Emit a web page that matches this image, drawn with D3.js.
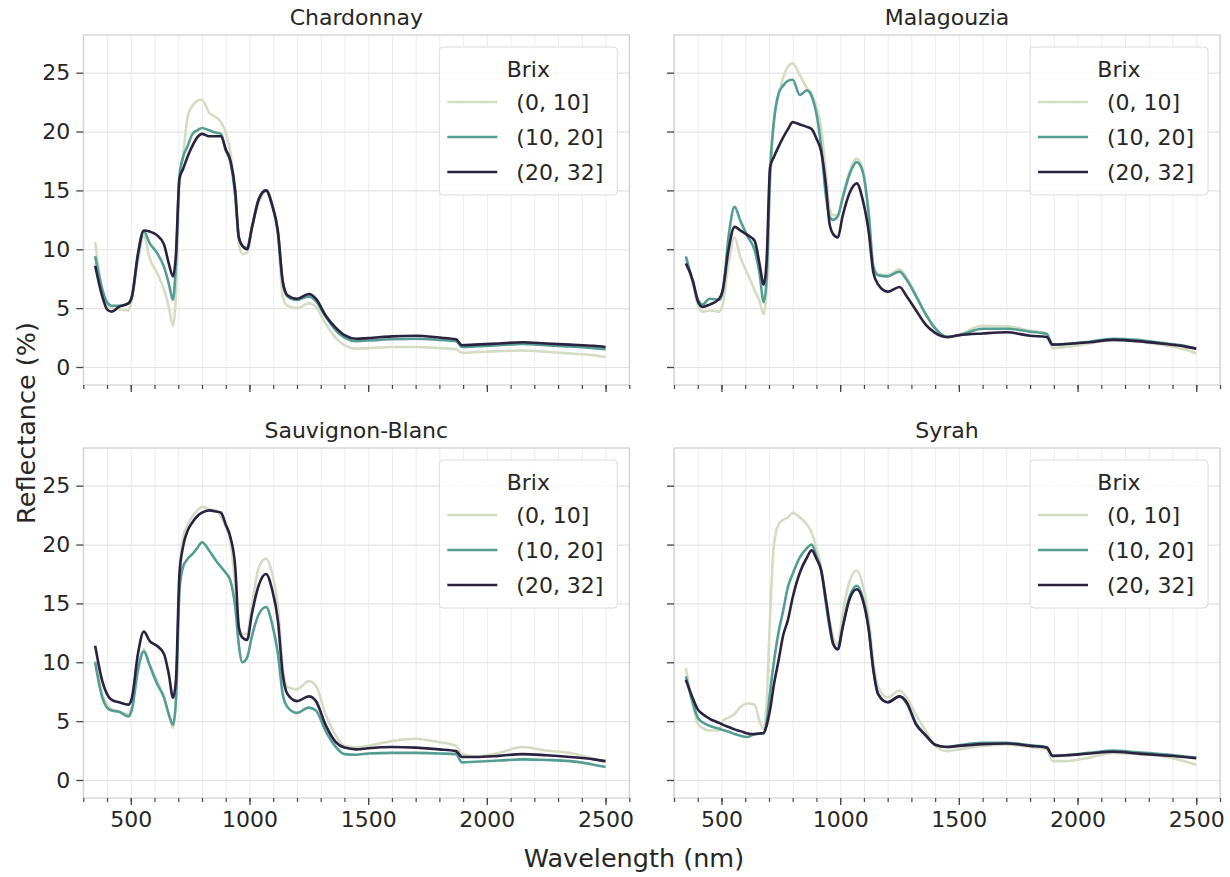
<!DOCTYPE html>
<html>
<head>
<meta charset="utf-8">
<script src="https://cdn.jsdelivr.net/npm/d3@7"></script>
<style>
  body { margin: 0; background: #fff; }
  text { font-family: "DejaVu Sans", sans-serif; fill: #262626; }
</style>
</head>
<body>
<script>
var W = 1230, H = 877;

// shared wavelength grid (nm)
var wavelengths = [350, 380, 400, 420, 450, 490, 505, 530, 555, 580, 610, 640, 660, 678, 690, 705, 720, 740, 760, 780,
  800, 830, 860, 880, 900, 920, 940, 955, 970, 990, 1010, 1040, 1070, 1095, 1120, 1140, 1160, 1200, 1250, 1280,
  1320, 1360, 1400, 1450, 1500, 1600, 1700, 1800, 1870, 1895, 1950, 2050, 2150, 2250, 2350, 2450, 2500];

var brixLabels = ["(0, 10]", "(10, 20]", "(20, 32]"];
var brixColors = ["#d4dcc4", "#559d92", "#2b2240"];
var varieties = ["Chardonnay", "Malagouzia", "Sauvignon-Blanc", "Syrah"];

var xTicks = [500, 1000, 1500, 2000, 2500];
var yTicks = [0, 5, 10, 15, 20, 25];

// Chardonnay
var chardonnayLow = [10.6, 6.5, 5.3, 5.0, 4.9, 4.8, 5.8, 9.0, 11.1, 9.2, 8.0, 6.6, 5.1, 3.5, 6.0, 15.5, 17.9, 21.3, 22.2, 22.6,
  22.7, 21.6, 21.2, 20.8, 19.9, 18.2, 14.5, 10.5, 9.6, 9.7, 11.9, 14.0, 14.9, 13.7, 11.1, 6.0, 5.2, 5.0, 5.4, 5.1,
  3.7, 2.55, 1.85, 1.55, 1.6, 1.7, 1.7, 1.6, 1.5, 1.2, 1.25, 1.35, 1.4, 1.3, 1.15, 1.0, 0.85];
var chardonnayMid = [9.4, 6.6, 5.5, 5.2, 5.2, 5.4, 6.0, 9.4, 11.5, 10.5, 9.7, 8.5, 7.1, 5.7, 8.8, 16.2, 17.8, 18.8, 19.8, 20.1,
  20.3, 20.1, 19.9, 19.8, 18.4, 17.4, 14.5, 11.1, 10.3, 10.1, 11.8, 14.3, 15.0, 13.8, 11.4, 7.2, 6.0, 5.7, 6.0, 5.6,
  4.3, 3.2, 2.5, 2.2, 2.25, 2.35, 2.4, 2.3, 2.2, 1.7, 1.75, 1.85, 1.95, 1.85, 1.75, 1.6, 1.5];
var chardonnayHigh = [8.6, 6.0, 4.9, 4.7, 5.1, 5.4, 6.0, 9.6, 11.6, 11.5, 11.2, 10.4, 8.8, 7.7, 9.5, 16.0, 16.8, 17.9, 18.8, 19.5,
  19.8, 19.6, 19.6, 19.6, 18.5, 17.5, 15.0, 11.0, 10.3, 10.0, 11.8, 14.3, 15.0, 13.8, 11.5, 7.3, 6.1, 5.8, 6.2, 5.8,
  4.4, 3.4, 2.7, 2.4, 2.45, 2.6, 2.65, 2.5, 2.35, 1.85, 1.9, 2.0, 2.1, 2.0, 1.9, 1.8, 1.7];

// Malagouzia
var malagouziaLow = [9.1, 7.0, 5.3, 4.7, 4.8, 4.7, 5.3, 8.8, 11.0, 9.3, 7.9, 6.5, 5.6, 4.5, 6.5, 15.5, 20.8, 23.0, 24.6, 25.5,
  25.8, 24.8, 23.7, 23.2, 22.1, 20.3, 16.5, 13.5, 12.9, 12.9, 14.5, 16.6, 17.7, 16.8, 13.2, 8.6, 7.9, 7.8, 8.3, 7.6,
  6.1, 4.5, 3.2, 2.5, 2.75, 3.5, 3.45, 3.1, 2.85, 1.6, 1.7, 2.0, 2.3, 2.2, 1.9, 1.5, 1.15];
var malagouziaMid = [9.4, 7.2, 5.8, 5.3, 5.8, 5.7, 6.4, 11.1, 13.6, 12.4, 11.1, 9.9, 8.0, 5.5, 7.5, 16.7, 20.7, 23.2, 23.9, 24.3,
  24.4, 23.1, 23.5, 23.0, 21.5, 18.7, 14.5, 12.8, 12.5, 12.8, 14.3, 16.4, 17.4, 16.6, 13.0, 8.5, 7.8, 7.7, 8.1, 7.4,
  6.0, 4.5, 3.3, 2.55, 2.7, 3.25, 3.25, 3.0, 2.8, 1.9, 1.95, 2.15, 2.4, 2.3, 2.05, 1.8, 1.55];
var malagouziaHigh = [8.8, 7.3, 5.6, 5.1, 5.3, 5.8, 6.5, 10.0, 11.9, 11.6, 11.2, 10.7, 8.8, 7.0, 9.0, 17.0, 17.8, 18.7, 19.5, 20.2,
  20.8, 20.6, 20.4, 20.2, 19.4, 18.3, 15.4, 12.2, 11.3, 11.0, 12.8, 14.8, 15.6, 14.2, 11.5, 8.0, 7.0, 6.4, 6.8, 6.0,
  4.8, 3.6, 2.9, 2.55, 2.7, 2.85, 2.95, 2.65, 2.55, 1.9, 1.95, 2.1, 2.3, 2.2, 2.0, 1.75, 1.55];

// Sauvignon-Blanc
var sauvignonLow = [10.1, 7.3, 6.4, 6.0, 5.8, 5.6, 6.3, 9.6, 11.1, 9.8, 8.5, 7.0, 5.6, 4.45, 6.5, 16.5, 20.6, 21.7, 22.4, 22.9,
  23.2, 23.0, 22.9, 22.4, 21.5, 20.3, 16.5, 13.0, 12.4, 12.4, 14.8, 18.1, 18.8, 17.6, 14.7, 9.6, 7.9, 7.7, 8.4, 8.0,
  5.6, 3.9, 2.9, 2.75, 2.9, 3.3, 3.5, 3.2, 2.9, 2.2, 2.0, 2.3, 2.8, 2.5, 2.3, 1.8, 1.5];
var sauvignonMid = [10.0, 7.0, 6.15, 5.9, 5.8, 5.4, 6.0, 9.3, 10.9, 9.7, 8.2, 7.0, 5.6, 4.7, 6.7, 16.1, 18.1, 18.8, 19.2, 19.7,
  20.2, 19.5, 18.6, 18.1, 17.6, 16.9, 14.7, 11.5, 10.0, 10.4, 12.2, 14.1, 14.7, 13.3, 10.7, 7.3, 6.2, 5.7, 6.15, 5.9,
  4.2, 2.9, 2.2, 2.15, 2.25, 2.3, 2.3, 2.25, 2.2, 1.5, 1.55, 1.65, 1.75, 1.7, 1.6, 1.3, 1.1];
var sauvignonHigh = [11.4, 8.4, 7.3, 6.8, 6.6, 6.4, 7.0, 10.7, 12.6, 11.8, 11.4, 10.7, 9.0, 7.0, 8.4, 17.5, 19.8, 21.2, 21.9, 22.4,
  22.7, 22.9, 22.8, 22.7, 21.7, 20.6, 18.1, 13.0, 12.1, 11.9, 14.1, 16.6, 17.5, 16.2, 13.5, 9.0, 7.3, 6.7, 7.1, 6.7,
  4.7, 3.3, 2.75, 2.6, 2.7, 2.8, 2.75, 2.6, 2.45, 1.95, 1.95, 2.05, 2.2, 2.1, 1.95, 1.75, 1.6];

// Syrah
var syrahLow = [9.5, 6.3, 4.8, 4.4, 4.2, 4.2, 5.0, 5.3, 5.6, 6.2, 6.5, 6.4, 5.0, 4.3, 6.5, 14.0, 19.8, 21.7, 22.1, 22.3,
  22.7, 22.3, 21.7, 21.0, 19.7, 18.0, 15.5, 13.6, 12.2, 11.5, 14.1, 16.9, 17.8, 16.6, 13.8, 10.0, 7.9, 7.0, 7.6, 7.0,
  5.5, 4.2, 2.9, 2.45, 2.6, 2.9, 3.0, 2.8, 2.6, 1.6, 1.6, 1.9, 2.3, 2.2, 2.05, 1.6, 1.3];
var syrahMid = [8.8, 6.5, 5.3, 4.9, 4.6, 4.35, 4.25, 4.1, 3.9, 3.75, 3.65, 3.9, 3.95, 4.0, 4.9, 7.5, 9.9, 12.5, 14.4, 16.4,
  17.5, 18.9, 19.7, 20.0, 19.0, 17.8, 15.0, 13.0, 11.6, 11.1, 13.0, 15.6, 16.5, 15.5, 12.9, 9.4, 7.3, 6.6, 7.1, 6.5,
  4.8, 3.8, 3.0, 2.8, 2.95, 3.15, 3.15, 2.95, 2.8, 2.05, 2.1, 2.3, 2.5, 2.35, 2.2, 2.0, 1.9];
var syrahHigh = [8.5, 6.9, 6.0, 5.6, 5.2, 4.85, 4.7, 4.5, 4.3, 4.15, 3.95, 3.9, 3.95, 4.0, 4.6, 6.0, 8.0, 10.1, 12.3, 13.6,
  15.5, 17.6, 18.9, 19.5, 18.8, 17.8, 15.3, 13.3, 11.6, 11.1, 12.9, 15.4, 16.2, 15.3, 12.8, 9.3, 7.3, 6.6, 7.1, 6.6,
  4.7, 3.8, 3.0, 2.8, 2.9, 3.05, 3.1, 2.9, 2.75, 2.05, 2.1, 2.25, 2.4, 2.25, 2.1, 1.95, 1.85];

var panelSeries = [
  [chardonnayLow, chardonnayMid, chardonnayHigh],
  [malagouziaLow, malagouziaMid, malagouziaHigh],
  [sauvignonLow, sauvignonMid, sauvignonHigh],
  [syrahLow, syrahMid, syrahHigh]
];

var pw = 546, ph = 350;
var lefts = [83.3, 674], tops = [35, 448];

var svg = d3.select("body").append("svg").attr("width", W).attr("height", H);

var x = d3.scaleLinear().domain([300, 2600]).range([0, pw]);
var y = d3.scaleLinear().domain([-1.53, 28.2]).range([ph, 0]);

var line = d3.line()
  .x(function (d) { return x(d[0]); })
  .y(function (d) { return y(d[1]); })
  .curve(d3.curveMonotoneX);

varieties.forEach(function (name, i) {
  var col = i % 2, row = Math.floor(i / 2);
  var g = svg.append("g").attr("transform", "translate(" + lefts[col] + "," + tops[row] + ")");

  // grid lines
  g.append("g")
    .attr("transform", "translate(0," + ph + ")")
    .call(d3.axisBottom(x).tickValues(d3.range(300, 2601, 100)).tickSize(-ph).tickFormat(""))
    .call(function (s) {
      s.select(".domain").remove();
      s.selectAll("line").attr("stroke", "#ececec").attr("stroke-width", 1);
    });
  g.append("g")
    .call(d3.axisLeft(y).tickValues(yTicks).tickSize(-pw).tickFormat(""))
    .call(function (s) {
      s.select(".domain").remove();
      s.selectAll("line").attr("stroke", "#e4e4e4").attr("stroke-width", 1.2);
    });

  // frame
  g.append("rect").attr("width", pw).attr("height", ph)
    .attr("fill", "none").attr("stroke", "#cfcfcf").attr("stroke-width", 1.2);

  // minor x ticks
  g.append("g")
    .attr("transform", "translate(0," + ph + ")")
    .call(d3.axisBottom(x).tickValues(d3.range(300, 2601, 100)).tickSize(4).tickFormat(""))
    .call(function (s) {
      s.select(".domain").remove();
      s.selectAll("line").attr("stroke", "#444").attr("stroke-width", 1.2);
    });

  // major x ticks
  var xa = g.append("g")
    .attr("transform", "translate(0," + ph + ")")
    .call(d3.axisBottom(x).tickValues(xTicks).tickSize(7).tickPadding(6)
      .tickFormat(row === 1 ? d3.format("d") : ""));
  xa.select(".domain").remove();
  xa.selectAll("line").attr("stroke", "#444").attr("stroke-width", 1.3);
  xa.selectAll("text").attr("font-size", 22).attr("fill", "#262626")
    .attr("font-family", "DejaVu Sans, sans-serif");

  // y ticks
  var ya = g.append("g")
    .call(d3.axisLeft(y).tickValues(yTicks).tickSize(7).tickPadding(6)
      .tickFormat(col === 0 ? d3.format("d") : ""));
  ya.select(".domain").remove();
  ya.selectAll("line").attr("stroke", "#444").attr("stroke-width", 1.3);
  ya.selectAll("text").attr("font-size", 22).attr("fill", "#262626")
    .attr("font-family", "DejaVu Sans, sans-serif");

  // spectra
  panelSeries[i].forEach(function (vals, k) {
    var pts = wavelengths.map(function (w, j) { return [w, vals[j]]; });
    g.append("path")
      .datum(pts)
      .attr("fill", "none")
      .attr("stroke", brixColors[k])
      .attr("stroke-width", 2.6)
      .attr("stroke-linejoin", "round")
      .attr("d", line);
  });

  // title
  g.append("text")
    .attr("x", pw / 2).attr("y", -10)
    .attr("text-anchor", "middle")
    .attr("font-size", 22)
    .text(name);

  // legend
  var lg = g.append("g").attr("transform", "translate(356,12)");
  lg.append("rect")
    .attr("width", 178).attr("height", 148).attr("rx", 4)
    .attr("fill", "#fff").attr("fill-opacity", 0.85)
    .attr("stroke", "#dcdcdc").attr("stroke-width", 1);
  lg.append("text").attr("x", 89).attr("y", 30).attr("text-anchor", "middle")
    .attr("font-size", 22).text("Brix");
  brixLabels.forEach(function (lab, k) {
    var yy = 55 + k * 35;
    lg.append("line").attr("x1", 8).attr("x2", 58).attr("y1", yy).attr("y2", yy)
      .attr("stroke", brixColors[k]).attr("stroke-width", 2.6);
    lg.append("text").attr("x", 77).attr("y", yy + 8).attr("font-size", 22).text(lab);
  });
});

// axis labels
svg.append("text")
  .attr("x", 634).attr("y", 867)
  .attr("text-anchor", "middle").attr("font-size", 25.5)
  .text("Wavelength (nm)");
svg.append("text")
  .attr("transform", "translate(35,423) rotate(-90)")
  .attr("text-anchor", "middle").attr("font-size", 25.5)
  .text("Reflectance (%)");
</script>
</body>
</html>
